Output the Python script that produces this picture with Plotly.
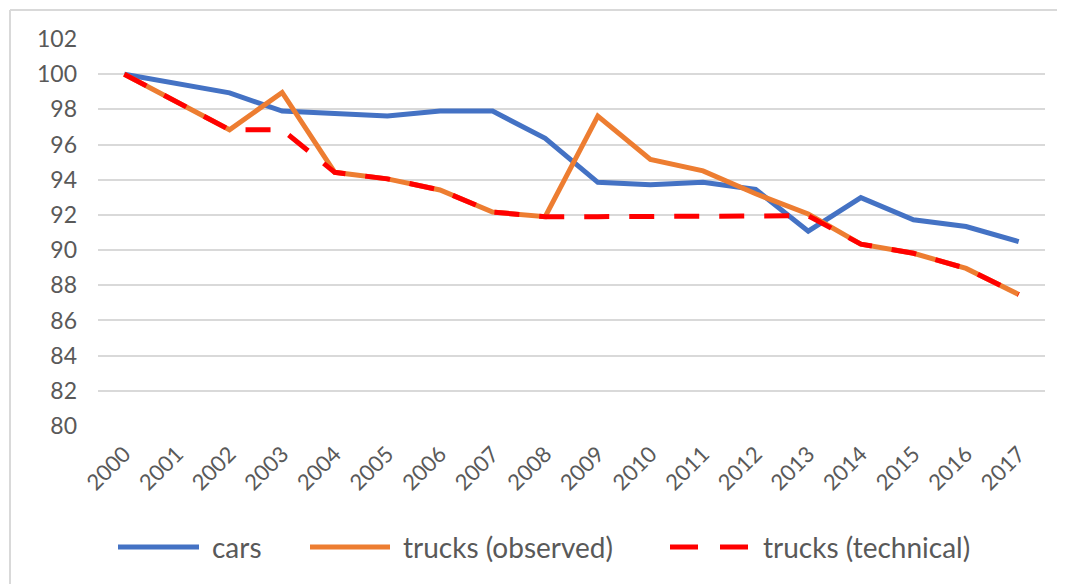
import plotly.graph_objects as go

years = [str(y) for y in range(2000, 2018)]
cars = [100, 99.47, 98.94, 97.9, 97.78, 97.62, 97.9, 97.9, 96.35, 93.85, 93.72, 93.85, 93.45, 91.08, 92.98, 91.72, 91.34, 90.48]
trucks_observed = [100, 98.42, 96.84, 98.96, 94.42, 94.05, 93.42, 92.16, 91.9, 97.62, 95.16, 94.5, 93.2, 92.05, 90.34, 89.82, 88.96, 87.48]
trucks_technical = [100, 98.42, 96.84, 96.84, 94.42, 94.05, 93.42, 92.16, 91.9, 91.9, 91.9, 91.9, 91.9, 91.95, 90.34, 89.82, 88.96, 87.48]
y_ticks = list(range(80, 103, 2))
series_names = ["cars", "trucks (observed)", "trucks (technical)"]
series_colors = ["#4472C4", "#ED7D31", "#FF0000"]
series_dash = ["solid", "solid", "25px,20px"]

FONT = "Lato"
GRAY = "#595959"

fig = go.Figure()
for name, vals, col, dash in zip(series_names, [cars, trucks_observed, trucks_technical], series_colors, series_dash):
    fig.add_trace(go.Scatter(x=years, y=vals, mode="lines", name=name,
                             line=dict(color=col, width=5, dash=dash), showlegend=False))

# page offset of 8px (body margin) taken into account
OFF = 8
W, H = 1065, 584
PX0, PX1, PY0, PY1 = 98, 1045, 39, 426   # plot area in screen pixels
L, T = PX0 - OFF, PY0 - OFF
R = W + OFF - PX1
B = H + OFF - PY1
pw, ph = PX1 - PX0, PY1 - PY0

def px(x):
    return (x - PX0) / pw

def py(y):
    return (PY1 - y) / ph

# outer chart border (top and left visible)
fig.add_shape(type="line", xref="paper", yref="paper", x0=px(10), x1=px(W + 20), y0=py(10), y1=py(10),
              line=dict(color="#d9d9d9", width=2))
fig.add_shape(type="line", xref="paper", yref="paper", x0=px(10), x1=px(10), y0=py(10), y1=py(H + 20),
              line=dict(color="#d9d9d9", width=2))

# legend (drawn at the bottom, Excel style)
leg_y = 547
leg_line = [(118, 199), (310, 390), (670, 748)]
leg_text = [212, 403, 763]
leg_dash = ["solid", "solid", "28px,22px"]
for (a, b), tx, name, col, dash in zip(leg_line, leg_text, series_names, series_colors, leg_dash):
    fig.add_shape(type="line", xref="paper", yref="paper", x0=px(a), x1=px(b), y0=py(leg_y), y1=py(leg_y),
                  line=dict(color=col, width=5, dash=dash))
    fig.add_annotation(xref="paper", yref="paper", x=px(tx - 2), y=py(leg_y), xanchor="left", yanchor="middle",
                       text=name, showarrow=False, font=dict(family=FONT, size=28, color=GRAY))

fig.update_layout(
    width=W, height=H,
    margin=dict(l=L, r=R, t=T, b=B),
    paper_bgcolor="white", plot_bgcolor="white",
    font=dict(family=FONT, color=GRAY, size=22),
    showlegend=False,
    xaxis=dict(type="category", tickangle=-45, showgrid=False, showline=False, ticks="",
               tickfont=dict(size=22, color=GRAY), range=[-0.5, 17.5], ticklabelstandoff=10),
    yaxis=dict(range=[80, 102], tickvals=y_ticks, showgrid=True, gridcolor="#d9d9d9", gridwidth=2,
               zeroline=False, showline=False, ticks="", ticklabelstandoff=20,
               tickfont=dict(size=23, color=GRAY)),
)

fig.write_html("out.html")
